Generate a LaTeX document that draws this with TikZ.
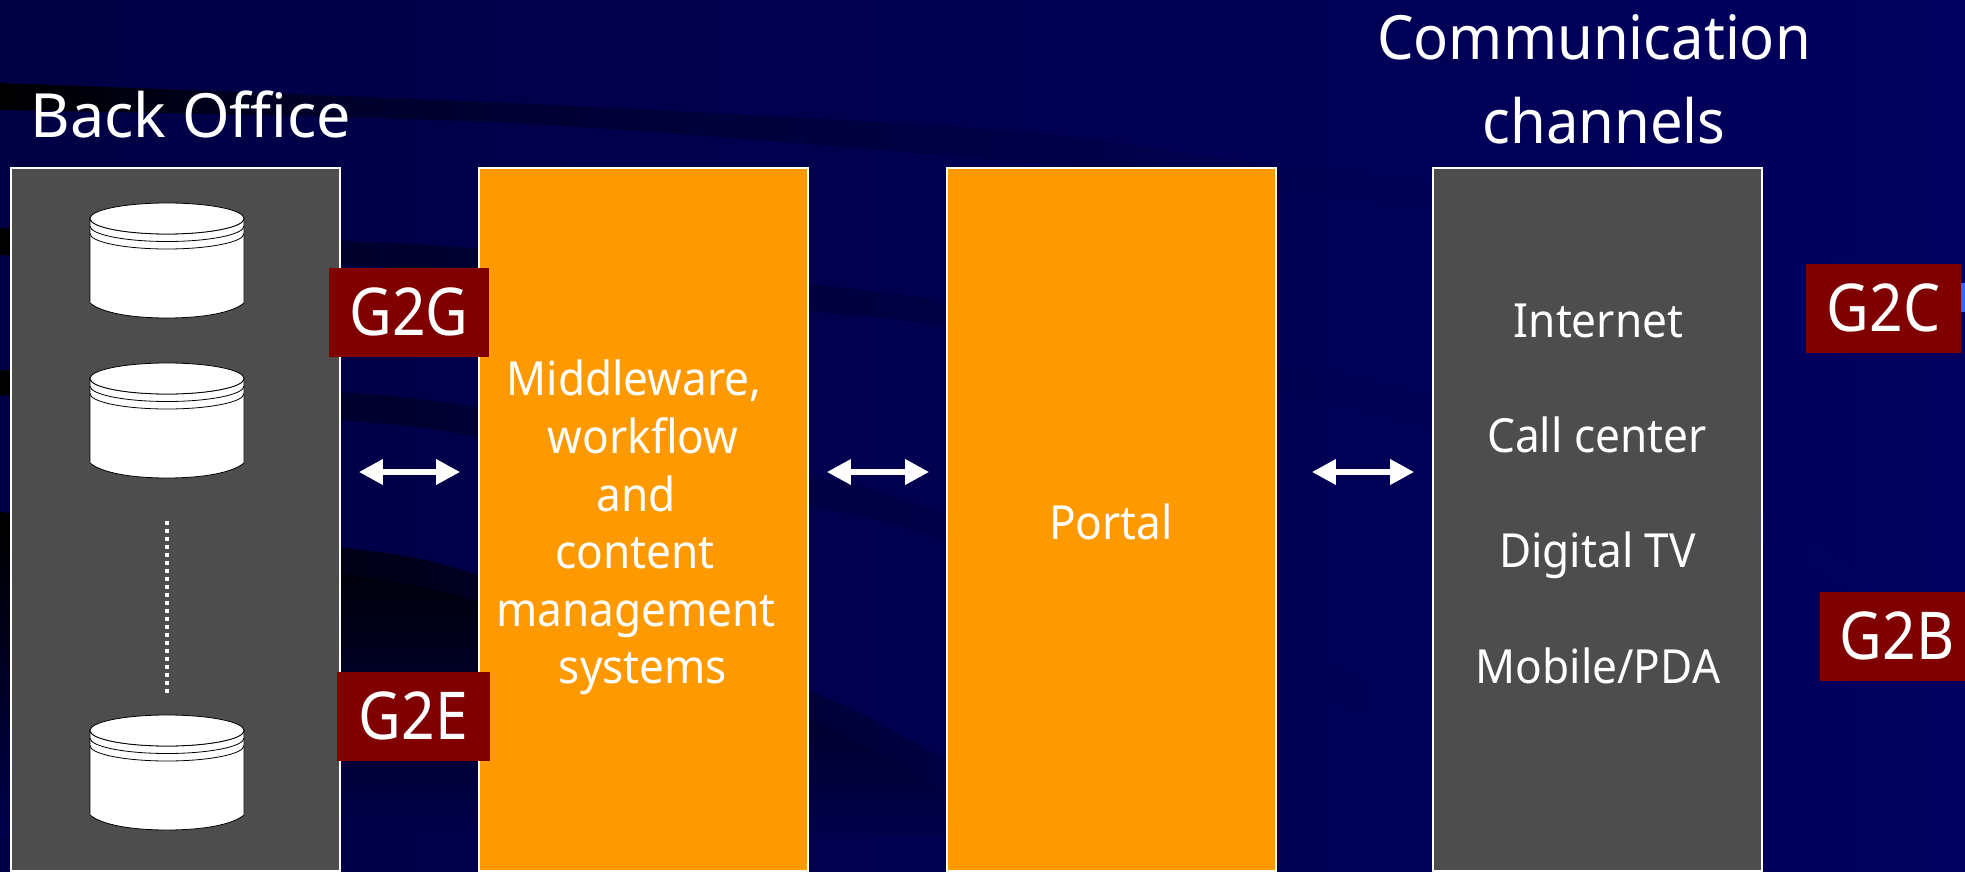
\documentclass[tikz,border=0pt]{standalone}
\usepackage{fontspec}
\setmainfont{Noto Sans}
\newfontfamily\tagfont[FakeStretch=0.89]{Noto Sans}
\newfontfamily\headfont[FakeStretch=0.95]{Noto Sans}
\newfontfamily\bodyfont[FakeStretch=0.94]{Noto Sans}
\usetikzlibrary{arrows.meta}
\definecolor{navyL}{HTML}{000044}
\definecolor{navyM}{HTML}{000052}
\definecolor{navyR}{HTML}{00005E}
\definecolor{grayBox}{HTML}{4D4D4D}
\definecolor{orangeBox}{HTML}{FF9900}
\definecolor{tagRed}{HTML}{800000}
\definecolor{sliver}{HTML}{3366FF}
\definecolor{bandA}{HTML}{00002C}
\definecolor{bandB}{HTML}{000044}
\definecolor{bandC}{HTML}{000053}
\definecolor{lipM}{HTML}{00002E}
\definecolor{lipR}{HTML}{000050}
\pgfdeclarehorizontalshading{bandfade}{100bp}{color(0bp)=(black); color(25bp)=(black); color(34bp)=(bandA); color(50bp)=(bandB); color(61bp)=(bandC); color(75bp)=(navyR); color(100bp)=(navyR)}
\tikzset{
  x=1pt,y=-1pt,
  col/.style={draw=white,line width=1.6pt,inner sep=0pt,minimum width=329pt,minimum height=703pt},
  grayCol/.style={col,fill=grayBox},
  orangeCol/.style={col,fill=orangeBox},
  tag/.style={fill=tagRed,text=white,inner sep=0pt,text height=67pt,text depth=22pt,font=\tagfont\fontsize{66}{66}\selectfont},
  head/.style={text=white,inner sep=0pt,anchor=base,font=\headfont\fontsize{61}{61}\selectfont},
  body/.style={text=white,inner sep=0pt,anchor=base,font=\bodyfont\fontsize{47}{47}\selectfont},
  link/.style={white,line width=6pt,{Triangle[length=24pt,width=24pt]}-{Triangle[length=24pt,width=24pt]}},
  band/.style={shading=bandfade},
  dbcyl/.pic={
    \draw[black,line width=.8pt,fill=white] (-77,15.5) -- (-77,100) .. controls (-65,110) and (-35,115) .. (0,115) .. controls (35,115) and (65,110) .. (77,100) -- (77,15.5) arc[start angle=0,end angle=-180,x radius=77,y radius=-15.5] -- cycle;
    \draw[black,line width=.8pt] (-77,23) arc[start angle=180,end angle=360,x radius=77,y radius=-15.5];
    \draw[black,line width=.8pt] (-77,30.5) arc[start angle=180,end angle=360,x radius=77,y radius=-15.5];
    \draw[black,line width=.8pt,fill=white] (0,15.5) ellipse[x radius=77,y radius=15.5];
  }
}
\begin{document}
\begin{tikzpicture}
\useasboundingbox (0,0) rectangle (1965,872);
\clip (0,0) rectangle (1965,872);
% background
\shade[left color=navyL,middle color=navyM,right color=navyR] (0,0) rectangle (1965,872);
\shade[band] plot[smooth] coordinates {(0,83)(510,103)(1000,130)(1215,157)(1430,185)(1766,240)(1900,265)} -- plot[smooth] coordinates {(1900,285)(1766,267)(1430,208)(1295,191)(1000,160)(510,123)(0,110)} -- cycle;
\shade[band] plot[smooth] coordinates {(0,228)(340,241)(480,249)(809,284)(947,302)(1277,364)(1433,401)(1763,513)(1880,590)} -- plot[smooth] coordinates {(1880,615)(1763,545)(1433,426)(1277,392)(947,327)(809,311)(480,276)(340,265)(0,255)} -- cycle;
\shade[band] plot[smooth] coordinates {(0,370)(340,392)(479,408)(809,475)(947,514)(1277,645)(1433,717)(1740,872)} -- plot[smooth] coordinates {(1700,872)(1433,747)(1277,670)(947,542)(809,505)(479,437)(340,420)(0,395)} -- cycle;
\shade[top color=black,bottom color=navyM!92!black] plot[smooth] coordinates {(0,525)(340,573)(479,602)(809,720)(947,790)(1040,835)} -- (0,835) -- cycle;
\shade[left color=black,middle color=lipM,right color=lipR] plot[smooth] coordinates {(0,512)(340,547)(479,575)(809,691)(947,760)(1100,840)(1140,860)} -- plot[smooth] coordinates {(1100,860)(947,790)(809,720)(479,602)(340,573)(0,525)} -- cycle;

% columns
\node[grayCol]   (back)   at (175.5,519.5)  {};
\node[orangeCol] (middle) at (643.5,519.5)  {};
\node[orangeCol] (portal) at (1111.5,519.5) {};
\node[grayCol]   (chan)   at (1597.5,519.5) {};

% connectors
\draw[link,shorten <=18pt,shorten >=18pt] ([yshift=47.5pt]back.east) -- ([yshift=47.5pt]middle.west);
\draw[link,shorten <=18pt,shorten >=17pt] ([yshift=47.5pt]middle.east) -- ([yshift=47.5pt]portal.west);
\draw[link,shorten <=35pt,shorten >=18pt] ([yshift=47.5pt]portal.east) -- ([yshift=47.5pt]chan.west);

% databases
\pic at (167,203) {dbcyl};
\pic at (167,363) {dbcyl};
\pic at (167,715) {dbcyl};
\coordinate (dotsA) at (167,520.5);
\coordinate (dotsB) at (167,693);
\draw[white,line width=4pt,dash pattern=on 4pt off 4pt] (dotsA) -- (dotsB);

% headings
\node[head,font=\rmfamily\fontsize{61}{61}\selectfont] (hback) at (191,138) {Back Office};
\node[head] (hcomm) at (1594,60) {Communication};
\node[head] (hchan) at (1604,143) {channels};

% box texts
\node[body] (mw1) at (634,395)  {Middleware,};
\node[body] (mw2) at (643,453)  {workflow};
\node[body] (mw3) at (636,511)  {and};
\node[body] (mw4) at (635,568)  {content};
\node[body] (mw5) at (636,626)  {management};
\node[body] (mw6) at (643,683)  {systems};
\node[body] (ptl) at (1111,539) {Portal};
\node[body] (ch1) at (1598.5,337) {Internet};
\node[body] (ch2) at (1597,452) {Call center};
\node[body] (ch3) at (1597.5,567) {Digital TV};
\node[body] (ch4) at (1598,683) {Mobile/PDA};

% tags
\fill[sliver] (1961,283) rectangle (1965,312);
\node[tag,minimum width=160pt] (g2g) at (409,312.5)  {G2G};
\node[tag,minimum width=153pt] (g2e) at (413.5,716.5) {G2E};
\node[tag,minimum width=155pt] (g2c) at (1883.5,308.5) {G2C};
\node[tag,minimum width=154pt] (g2b) at (1897,636.5)  {G2B};
\end{tikzpicture}
\end{document}
